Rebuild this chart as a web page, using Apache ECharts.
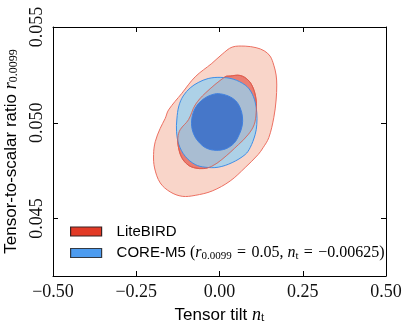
<!DOCTYPE html>
<html>
<head>
<meta charset="utf-8">
<script src="https://cdn.jsdelivr.net/npm/echarts@6/dist/echarts.min.js"></script>
<style>
  html, body { margin: 0; padding: 0; background: #fff; }
  #chart { width: 409px; height: 330px; }
</style>
</head>
<body>
<div id="chart"></div>
<script>
// contour outlines, points are [n_t, r]
const liteOuter = [
  [0.038, 0.05395], [0.077, 0.0540], [0.110, 0.05392], [0.134, 0.05376], [0.152, 0.05348],
  [0.163, 0.05301], [0.170, 0.05249], [0.172, 0.05197], [0.170, 0.05119], [0.163, 0.05026],
  [0.148, 0.04922], [0.131, 0.0487], [0.116, 0.04834], [0.077, 0.04766], [0.032, 0.04696],
  [-0.022, 0.04644], [-0.073, 0.04621], [-0.112, 0.04616], [-0.148, 0.04639], [-0.178, 0.04686],
  [-0.195, 0.04764], [-0.198, 0.04834], [-0.193, 0.04901], [-0.178, 0.04971], [-0.163, 0.05023],
  [-0.153, 0.05067], [-0.113, 0.05154], [-0.073, 0.0524], [-0.023, 0.0531], [0.008, 0.05358]
]
const liteInner = [
  [0.032, 0.05244], [0.062, 0.05247], [0.086, 0.05223], [0.101, 0.05182], [0.110, 0.05119],
  [0.110, 0.05052], [0.104, 0.0499], [0.086, 0.04938], [0.057, 0.04886], [0.007, 0.04808],
  [-0.023, 0.04773], [-0.048, 0.04761], [-0.073, 0.04764], [-0.094, 0.04779], [-0.113, 0.04817],
  [-0.123, 0.0487], [-0.125, 0.04922], [-0.118, 0.04964], [-0.093, 0.05016], [-0.073, 0.05093],
  [-0.043, 0.05154], [0.017, 0.0524]
]
const coreOuter = [
  [0.002, 0.05237], [0.041, 0.05228], [0.077, 0.05197], [0.095, 0.05161], [0.107, 0.05109],
  [0.112, 0.05052], [0.112, 0.0499], [0.107, 0.04938], [0.092, 0.0487], [0.077, 0.04834],
  [0.038, 0.04792], [-0.004, 0.04768], [-0.043, 0.04768], [-0.073, 0.04782], [-0.103, 0.04825],
  [-0.122, 0.04886], [-0.129, 0.04953], [-0.128, 0.0502], [-0.122, 0.05088], [-0.109, 0.0514],
  [-0.088, 0.05182], [-0.064, 0.0521], [-0.034, 0.05231]
]
const coreInner = [
  [-0.004, 0.05152], [0.026, 0.0514], [0.049, 0.05114], [0.062, 0.05078], [0.069, 0.05031],
  [0.068, 0.04984], [0.059, 0.04938], [0.044, 0.04894], [0.020, 0.04865], [-0.010, 0.04856],
  [-0.040, 0.04868], [-0.063, 0.04901], [-0.078, 0.04943], [-0.084, 0.04995], [-0.079, 0.05052],
  [-0.064, 0.05099], [-0.043, 0.0513], [-0.025, 0.05145]
]
const yTicks = [0.045, 0.050, 0.055]
const legendNames = ['LiteBIRD', 'CORE-M5']

const serif = 'Liberation Serif'
const sans = 'Liberation Sans'

const chart = echarts.init(document.getElementById('chart'))

// one filled outline drawn through the grid's scales
function contour(name, pts, fill, stroke) {
  return {
    name: name,
    type: 'custom',
    coordinateSystem: 'cartesian2d',
    silent: true,
    itemStyle: { color: fill },
    data: pts,
    renderItem(params, api) {
      if (params.dataIndex !== 0) return
      return {
        type: 'polygon',
        shape: { points: pts.map(p => api.coord(p)), smooth: 0.35 },
        style: { fill: fill, stroke: stroke, lineWidth: 1 }
      }
    }
  }
}

const mathRich = {
  it: { fontFamily: serif, fontStyle: 'italic', fontSize: 18, color: '#000' },
  sub: { fontFamily: serif, fontSize: 12, color: '#000', verticalAlign: 'bottom', lineHeight: 14 }
}

const axisCommon = {
  type: 'value',
  axisLine: { show: true, onZero: false, lineStyle: { color: '#000', width: 1 } },
  axisTick: { show: true, inside: true, length: 5, lineStyle: { color: '#000' } },
  splitLine: { show: false }
}

chart.setOption({
  animation: false,
  grid: { left: 53, right: 23, top: 27, bottom: 54, outerBoundsMode: 'none' },
  xAxis: [{
    ...axisCommon,
    position: 'bottom',
    min: -0.5, max: 0.5, interval: 0.25,
    axisLabel: {
      margin: 7,
      fontFamily: serif, fontSize: 18, color: '#111',
      formatter: v => (v < 0 ? '\u2212' : '') + Math.abs(v).toFixed(2)
    },
    name: 'Tensor tilt {it|n}{sub|t}',
    nameLocation: 'middle',
    nameGap: 22,
    nameTextStyle: { fontFamily: sans, fontSize: 17, color: '#000', rich: mathRich }
  }, {
    ...axisCommon,
    position: 'top',
    min: -0.5, max: 0.5, interval: 0.25,
    axisLabel: { show: false }
  }],
  yAxis: [{
    ...axisCommon,
    position: 'left',
    min: 0.042, max: 0.055,
    axisTick: { ...axisCommon.axisTick, customValues: yTicks },
    axisLabel: {
      customValues: yTicks,
      rotate: 90,
      margin: 7,
      fontFamily: serif, fontSize: 18, color: '#111',
      formatter: v => v.toFixed(3)
    },
    name: 'Tensor-to-scalar ratio {it|r}{sub|0.0099}',
    nameLocation: 'middle',
    nameGap: 30,
    nameTextStyle: { fontFamily: sans, fontSize: 17, color: '#000', rich: mathRich }
  }, {
    ...axisCommon,
    position: 'right',
    min: 0.042, max: 0.055,
    axisTick: { ...axisCommon.axisTick, customValues: yTicks },
    axisLabel: { show: false }
  }],
  legend: {
    orient: 'vertical',
    left: 65,
    top: 219,
    itemWidth: 31,
    itemHeight: 9,
    itemGap: 6,
    selectedMode: false,
    data: [
      { name: legendNames[0], icon: 'rect', itemStyle: { color: '#e23a26', borderColor: '#3a2222', borderWidth: 1.2 } },
      { name: legendNames[1], icon: 'rect', itemStyle: { color: '#4d9cf0', borderColor: '#333a44', borderWidth: 1.2 } }
    ],
    formatter: name => name === legendNames[0]
      ? '{t|LiteBIRD}'
      : '{t|CORE-M5 }{m|(}{it|r}{sub|0.0099}{m|\u2004=\u20040.05, }{it|n}{sub|t}{m|\u2004=\u2004\u22120.00625)}',
    textStyle: {
      padding: [0, 0, 0, 10],
      rich: {
        t: { fontFamily: sans, fontSize: 15, color: '#000', lineHeight: 17 },
        m: { fontFamily: serif, fontSize: 16, color: '#000', lineHeight: 17 },
        it: { fontFamily: serif, fontStyle: 'italic', fontSize: 16, color: '#000', lineHeight: 17 },
        sub: { fontFamily: serif, fontSize: 11, color: '#000', verticalAlign: 'bottom', lineHeight: 14 }
      }
    }
  },
  series: [
    contour(legendNames[0], liteOuter, '#f9d5c9', '#ec6f61'),
    contour(legendNames[0], liteInner, '#ea7d71', '#e05848'),
    contour(legendNames[1], coreOuter, 'rgba(150,208,239,0.77)', '#3d8ee8'),
    contour('', liteInner, 'none', 'rgba(222,95,80,0.8)'),
    contour(legendNames[1], coreInner, '#4677c9', '#3f80e0')
  ]
})
</script>
</body>
</html>
